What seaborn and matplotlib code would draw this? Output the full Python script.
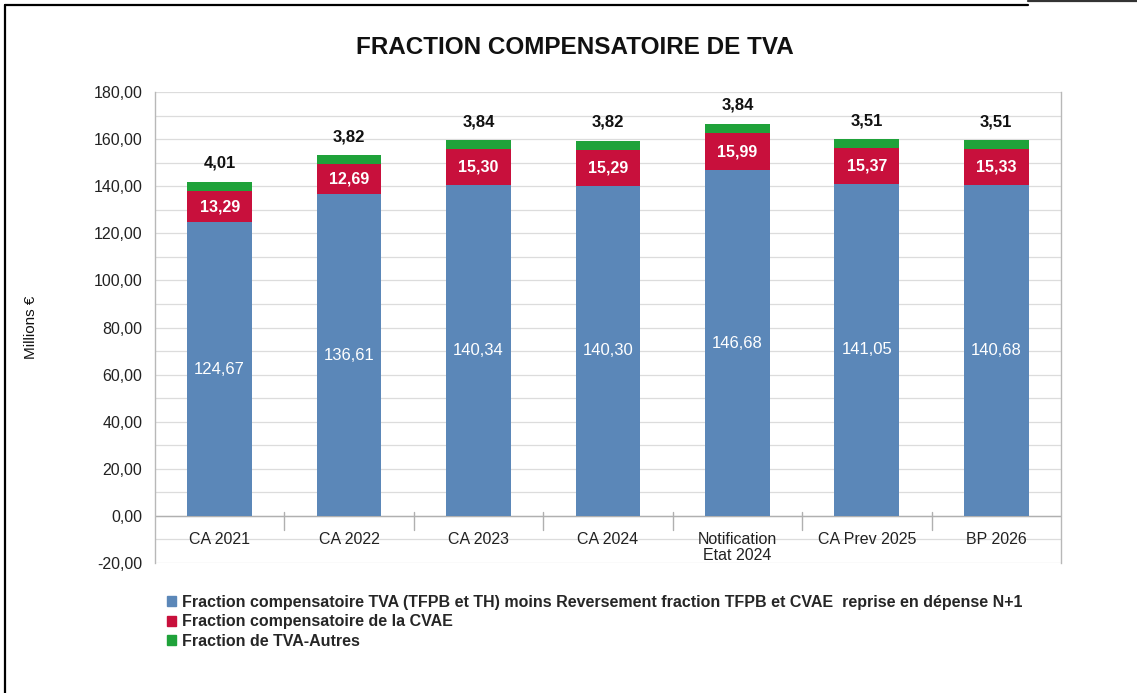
import numpy as np
import pandas as pd
import matplotlib
matplotlib.use("Agg")
import matplotlib.pyplot as plt
import seaborn as sns
from matplotlib.patches import Rectangle
from matplotlib.lines import Line2D

# Données
categories = ["CA 2021", "CA 2022", "CA 2023", "CA 2024",
              "Notification\nEtat 2024", "CA Prev 2025", "BP 2026"]
fraction_tva = [124.67, 136.61, 140.34, 140.30, 146.68, 141.05, 140.68]
fraction_cvae = [13.29, 12.69, 15.30, 15.29, 15.99, 15.37, 15.33]
fraction_autres = [4.01, 3.82, 3.84, 3.82, 3.84, 3.51, 3.51]

series_names = [
    "Fraction compensatoire TVA (TFPB et TH) moins Reversement fraction TFPB et CVAE  reprise en dépense N+1",
    "Fraction compensatoire de la CVAE",
    "Fraction de TVA-Autres",
]
couleurs = ["#5b87b8", "#c8103c", "#1fa23a"]

def fmt(v):
    return f"{v:.2f}".replace(".", ",")

sns.set_theme(style="white")
plt.rcParams["font.family"] = ["Liberation Sans", "DejaVu Sans"]

fig = plt.figure(figsize=(11.37, 6.93), dpi=100)
fig.patch.set_facecolor("white")
ax = fig.add_axes([0.1363, 0.1876, 0.7968, 0.6796])

df = pd.DataFrame({"cat": categories, "tva": fraction_tva,
                   "cvae": fraction_cvae, "autres": fraction_autres})
df["b2"] = df["tva"] + df["cvae"]
df["b3"] = df["b2"] + df["autres"]

# barres empilées (du haut vers le bas pour l'ordre de dessin)
for col, c in zip(["b3", "b2", "tva"], couleurs[::-1]):
    sns.barplot(data=df, x="cat", y=col, color=c, width=0.5, saturation=1,
                linewidth=0, ax=ax, zorder=3)

for i, row in df.iterrows():
    ax.text(i, row["tva"] / 2, fmt(row["tva"]), ha="center", va="center",
            color="white", fontsize=12, zorder=4)
    ax.text(i, row["tva"] + row["cvae"] / 2, fmt(row["cvae"]), ha="center",
            va="center", color="white", fontsize=11.5, fontweight="bold", zorder=4)
    ax.annotate(fmt(row["autres"]), (i, row["b3"]), xytext=(0, 8),
                textcoords="offset points", ha="center", va="bottom",
                fontsize=12, fontweight="bold", color="#111111", zorder=4)
    # étiquettes de catégorie juste sous la ligne du zéro
    ax.text(i, -7, row["cat"], ha="center", va="top", fontsize=11.5,
            color="#222222", linespacing=1.05)

ax.set_xlim(-0.5, len(categories) - 0.5)
ax.set_ylim(-20, 180)
yt = np.arange(-20, 181, 20)
ax.set_yticks(yt)
ax.set_yticklabels([fmt(v) for v in yt], fontsize=11.5, color="#222222")
ax.set_yticks(np.arange(-10, 180, 20), minor=True)
ax.grid(axis="y", which="both", color="#dcdcdc", linewidth=0.9, zorder=0)
ax.tick_params(axis="y", length=0, pad=9)
ax.set_xticks([])
ax.set_xlabel("")
ax.set_ylabel("Millions €", fontsize=11, labelpad=40, color="#111111")

ax.axhline(0, color="#b0b0b0", linewidth=1, zorder=2)
for xb in np.arange(0.5, len(categories) - 0.5, 1):
    ax.plot([xb, xb], [1.5, -6], color="#b0b0b0", linewidth=1, zorder=2)

for s in ["top", "bottom"]:
    ax.spines[s].set_visible(False)
for s in ["left", "right"]:
    ax.spines[s].set_color("#b8b8b8")
    ax.spines[s].set_linewidth(1)

fig.text(0.506, 0.932, "FRACTION COMPENSATOIRE DE TVA", ha="center",
         va="center", fontsize=17.5, fontweight="bold", color="#111111")

handles = [Rectangle((0, 0), 1, 1, color=c) for c in couleurs]
leg = fig.legend(handles, series_names, loc="upper left",
                 bbox_to_anchor=(0.140, 0.153), frameon=False,
                 handlelength=0.55, handleheight=0.6, handletextpad=0.35,
                 labelspacing=0.28, borderpad=0,
                 prop={"weight": "bold", "size": 11.5})

# cadre noir (haut et gauche)
W, H = 1137, 693
fig.add_artist(Line2D([5 / W, 5 / W], [0, 1 - 5 / H], transform=fig.transFigure,
                      color="black", linewidth=1.6))
fig.add_artist(Line2D([5 / W, 1028 / W], [1 - 5 / H, 1 - 5 / H],
                      transform=fig.transFigure, color="black", linewidth=1.6))
fig.add_artist(Line2D([1028 / W, 1], [1 - 1 / H, 1 - 1 / H],
                      transform=fig.transFigure, color="#333333", linewidth=1.6))

fig.savefig("out.png", dpi=100, facecolor="white")
